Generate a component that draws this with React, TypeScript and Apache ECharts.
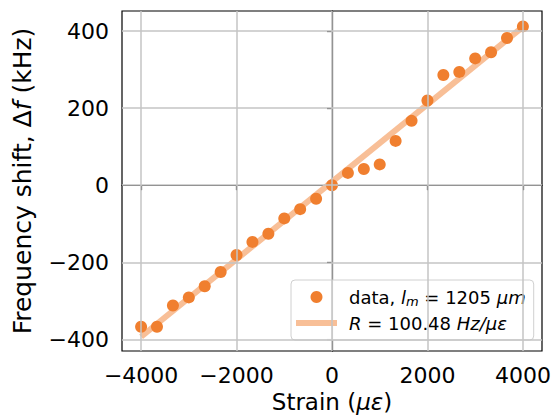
import React, { useEffect, useRef } from "react";
import * as echarts from "echarts";

const strain = [-4000, -3667, -3333, -3000, -2667, -2333, -2000, -1667, -1333, -1000, -667, -333, 0, 333, 667, 1000, 1333, 1667, 2000, 2333, 2667, 3000, 3333, 3667, 4000];
const shift = [-367, -367, -312, -291, -262, -225, -181, -147, -126, -86, -62, -35, 0, 32, 42, 54, 115, 167, 220, 286, 294, 329, 345, 382, 412];
const fitStrain = [-4000, 4000];
const fitShift = [-393, 411];
const xTicks = [-4000, -2000, 0, 2000, 4000];
const yTicks = [-400, -200, 0, 200, 400];

const FONT = "DejaVu Sans";
const ORANGE = "#f07f2f";
const FIT = "#f8bf97";
const GRIDC = "#c4c4c4";

const fmt = (v: number) => (v < 0 ? "\u2212" + Math.abs(v) : String(v));

export default function App() {
  const ref = useRef<HTMLDivElement>(null);
  useEffect(() => {
    if (!ref.current) return;
    const chart = echarts.init(ref.current, null, { renderer: "svg" });
    const tickFont = 22;
    const xNameFont = 23;
    const yNameFont = 25;
    const legFont = 18;
    chart.setOption({
      animation: false,
      backgroundColor: "#fff",
      grid: {
        left: 122,
        right: 14,
        top: 11,
        bottom: 65,
        containLabel: false,
        outerBoundsMode: "none",
        show: true,
        borderColor: "#000",
        borderWidth: 1.2,
        backgroundColor: "transparent",
      },
      xAxis: {
        type: "value",
        min: -4400,
        max: 4400,
        splitLine: { show: false },
        axisLine: { show: true, lineStyle: { color: "#000", width: 1.2 } },
        axisTick: { show: true, customValues: xTicks, length: 5, lineStyle: { color: "#000", width: 1.2 } },
        axisLabel: {
          customValues: xTicks,
          formatter: fmt,
          color: "#000",
          fontFamily: FONT,
          fontSize: tickFont,
          margin: 13,
        },
        name: "{a|Strain (}{i|\u03bc\u03b5}{a|)}",
        nameLocation: "middle",
        nameGap: 40,
        nameTextStyle: {
          color: "#000",
          fontFamily: FONT,
          fontSize: xNameFont,
          lineHeight: 22,
          rich: {
            a: { fontFamily: FONT, fontSize: xNameFont, color: "#000", lineHeight: 22 },
            i: { fontFamily: FONT, fontSize: xNameFont, color: "#000", fontStyle: "italic", lineHeight: 22 },
          },
        },
      },
      yAxis: {
        type: "value",
        min: -430,
        max: 452,
        splitLine: { show: false },
        axisLine: { show: true, lineStyle: { color: "#000", width: 1.2 } },
        axisTick: { show: true, customValues: yTicks, length: 5, lineStyle: { color: "#000", width: 1.2 } },
        axisLabel: {
          customValues: yTicks,
          formatter: fmt,
          color: "#000",
          fontFamily: FONT,
          fontSize: tickFont,
          margin: 13,
        },
        name: "{a|Frequency shift, \u0394}{i|f}{a| (kHz)}",
        nameLocation: "middle",
        nameGap: 87,
        nameTextStyle: {
          color: "#000",
          fontFamily: FONT,
          fontSize: yNameFont,
          rich: {
            a: { fontFamily: FONT, fontSize: yNameFont, color: "#000" },
            i: { fontFamily: FONT, fontSize: yNameFont, color: "#000", fontStyle: "italic" },
          },
        },
      },
      legend: {
        orient: "vertical",
        left: 291,
        top: 280,
        padding: [6, 8, 8, 5],
        itemGap: 6,
        itemWidth: 41,
        itemHeight: 12,
        backgroundColor: "rgba(255,255,255,0.85)",
        borderColor: "#d0d0d0",
        borderWidth: 1,
        borderRadius: 4,
        data: [
          { name: "data", icon: "circle" },
          { name: "fit", icon: "path://M0,0H41V6H0Z" },
        ],
        formatter: (name: string) =>
          name === "data"
            ? "{a|data, }{i|l}{s|m}{a| = 1205 }{i|\u03bcm}"
            : "{i|R}{a| = 100.48 }{i|Hz/\u03bc\u03b5}",
        textStyle: {
          color: "#000",
          fontFamily: FONT,
          fontSize: legFont,
          padding: [0, 0, 0, 7],
          rich: {
            a: { fontFamily: FONT, fontSize: legFont, color: "#000", lineHeight: 20 },
            i: { fontFamily: FONT, fontSize: legFont, color: "#000", fontStyle: "italic", lineHeight: 20 },
            s: { fontFamily: FONT, fontSize: 13, color: "#000", fontStyle: "italic", lineHeight: 12, padding: [9, 0, 0, 0] },
          },
        },
      },
      series: [
        {
          name: "grid",
          type: "scatter",
          data: [],
          z: 1,
          silent: true,
          markLine: {
            silent: true,
            symbol: ["none", "none"],
            label: { show: false },
            lineStyle: { color: GRIDC, width: 1.5, type: "solid" },
            emphasis: { disabled: true },
            data: [
              ...xTicks.map((v) => ({ xAxis: v })),
              ...yTicks.map((v) => ({ yAxis: v })),
            ],
          },
        },
        {
          name: "fit",
          type: "line",
          z: 2,
          data: fitStrain.map((x, i) => [x, fitShift[i]]),
          showSymbol: false,
          symbol: "none",
          lineStyle: { color: FIT, width: 6 },
          itemStyle: { color: FIT },
        },
        {
          name: "data",
          type: "scatter",
          z: 3,
          data: strain.map((x, i) => [x, shift[i]]),
          symbol: "circle",
          symbolSize: 12,
          itemStyle: { color: ORANGE, opacity: 1 },
        },
      ],
    });
    return () => chart.dispose();
  }, []);
  return <div ref={ref} style={{ width: 556, height: 416, position: "absolute", left: 0, top: 0 }} />;
}
